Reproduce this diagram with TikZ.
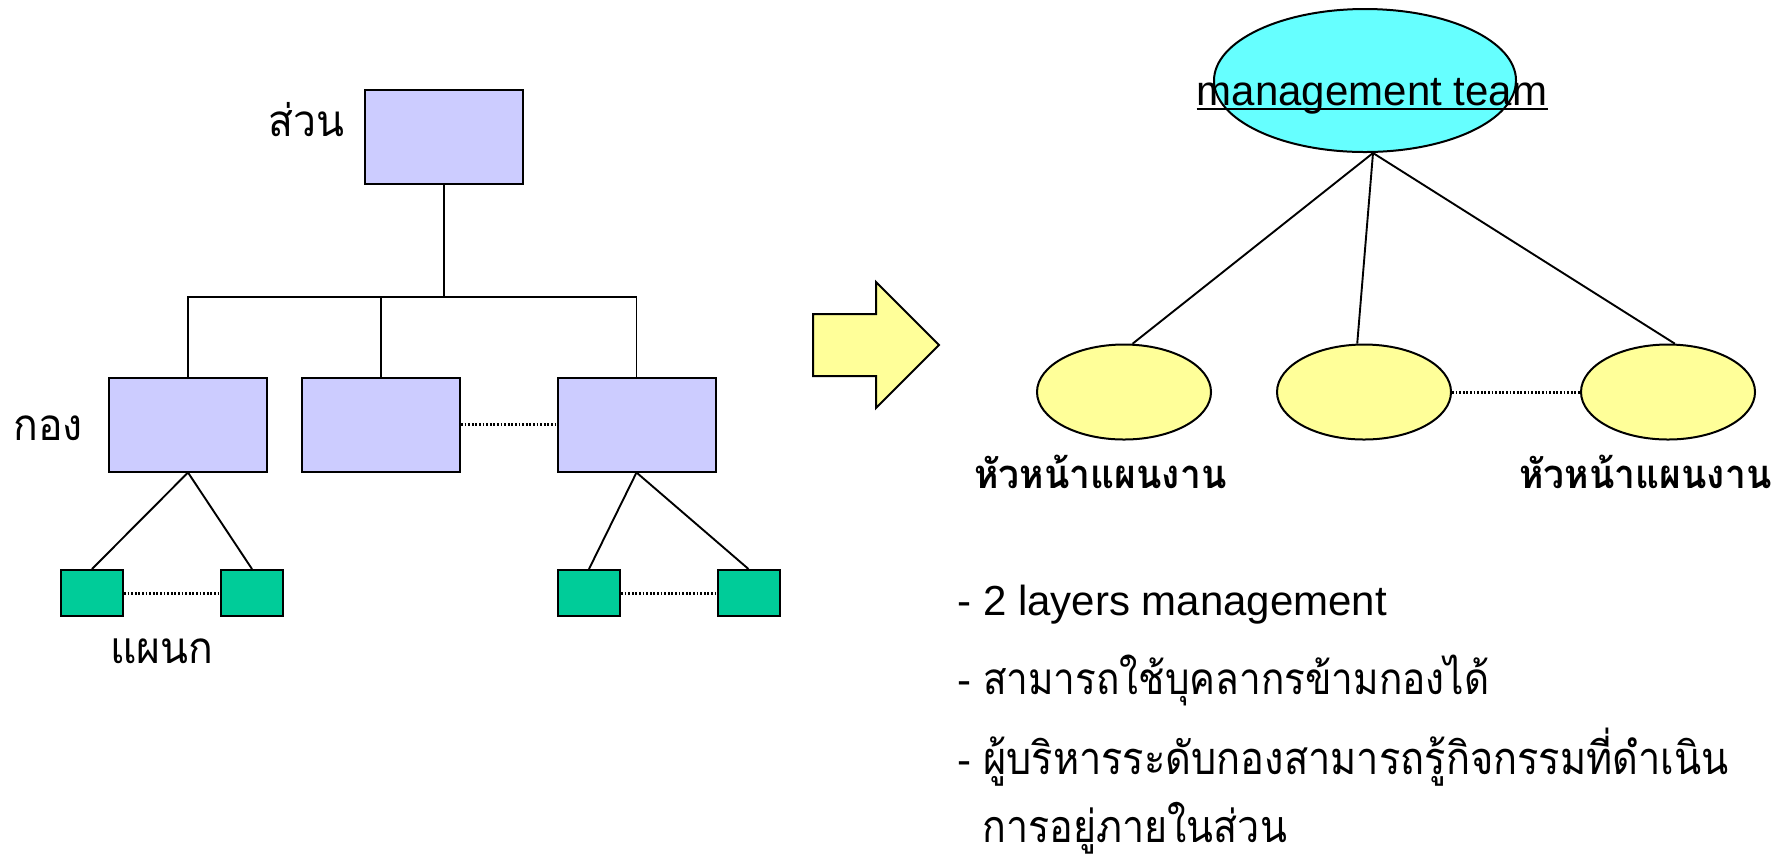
\documentclass[tikz,border=0pt]{standalone}
\usepackage{fontspec}
\setmainfont{Liberation Sans}
\newfontfamily\thailabel[Script=Thai, FakeStretch=0.93]{Loma}
\newfontfamily\thainote[Script=Thai, FakeStretch=0.88]{Loma}
\usetikzlibrary{shapes.geometric}
\definecolor{lavender}{HTML}{CCCCFF}
\definecolor{seagreen}{HTML}{00CC99}
\definecolor{aqua}{HTML}{66FFFF}
\definecolor{paleyellow}{HTML}{FFFF99}
\tikzset{
  unitbox/.style={draw=black, line width=1pt, fill=lavender, minimum width=79pt, minimum height=47pt, inner sep=0pt},
  deptbox/.style={draw=black, line width=1pt, fill=seagreen, minimum width=31pt, minimum height=23pt, inner sep=0pt},
  lead/.style={ellipse, draw=black, line width=1pt, fill=paleyellow, minimum width=87pt, minimum height=47.5pt, inner sep=0pt},
  link/.style={line width=0.95pt},
  peer/.style={line width=1.5pt, dash pattern=on 0.9pt off 0.9pt},
  lbl/.style={inner sep=0pt, font=\thailabel\fontsize{22}{26}\selectfont},
  headlbl/.style={inner sep=0pt, anchor=base west, font=\thailabel\bfseries\fontsize{20}{24}\selectfont},
  bullet/.style={inner sep=0pt, anchor=base west, font=\fontsize{21}{25}\selectfont},
}
\begin{document}
\begin{tikzpicture}[x=0.5pt, y=-0.5pt]
\useasboundingbox (0,0) rectangle (1780,859);

% ---- hierarchical structure ----
\node[unitbox] (sec) at (444,137) {};
\node[unitbox] (d1) at (188,424.5) {};
\node[unitbox] (d2) at (381,424.5) {};
\node[unitbox] (d3) at (636.5,424.5) {};
\node[deptbox] (s1) at (92,593) {};
\node[deptbox] (s2) at (252,593) {};
\node[deptbox] (s3) at (589,593) {};
\node[deptbox] (s4) at (748.5,593) {};
\coordinate (bar) at (444,297);

\draw[link] (sec.south) -- (bar);
\draw[link] (d1.north) |- (bar) -| (d3.north);
\draw[link] (d2.north) -- (d2.north |- bar);
\draw[peer] (d2.east) -- (d3.west);
\draw[link] (d1.south) -- (s1.north);
\draw[link] (d1.south) -- (s2.north);
\draw[link] (d3.south) -- (s3.north);
\draw[link] (d3.south) -- (s4.north);
\draw[peer] (s1.east) -- (s2.west);
\draw[peer] (s3.east) -- (s4.west);

\node[lbl, anchor=base east] (lsec) at (345,136) {ส่วน};
\node[lbl, anchor=base west] (ldiv) at (13,440) {กอง};
\node[lbl, anchor=base west] (ldept) at (110,663) {แผนก};

% ---- block arrow ----
\draw[line width=1pt, fill=paleyellow] (813,314) -- (876,314) -- (876,282) -- (939,345)
  -- (876,408) -- (876,376) -- (813,376) -- cycle;

% ---- team structure ----
\node[ellipse, draw=black, line width=1pt, fill=aqua, minimum width=151pt, minimum height=71.5pt, inner sep=0pt] (team) at (1365,80.5) {};
\node[inner sep=0pt, anchor=base, font=\fontsize{21}{25}\selectfont] (tt) at (1372,105) {management team};
\draw[line width=0.9pt] ([yshift=-1.8pt]tt.base west) -- ([yshift=-1.8pt]tt.base east);

\node[lead] (e1) at (1124,392) {};
\node[lead] (e2) at (1364,392) {};
\node[lead] (e3) at (1668,392) {};
\coordinate (hub) at ([xshift=4pt]team.south);
\draw[link] (hub) -- (e1.80);
\draw[link] (hub) -- (e2.98);
\draw[link] (hub) -- (e3.82);
\draw[peer] (e2.east) -- (e3.west);

\node[headlbl] (h1) at (974,488) {หัวหน้าแผนงาน};
\node[headlbl] (h2) at (1519,488) {หัวหน้าแผนงาน};

% ---- notes ----
\node[bullet] (n1) at (957,615) {- 2 layers management};
\node[bullet] (n2) at (957,694) {- {\thainote\fontsize{22}{26}\selectfont สามารถใช้บุคลากรข้ามกองได้}};
\node[bullet] (n3) at (957,774) {- {\thainote\fontsize{22.6}{26}\selectfont ผู้บริหารระดับกองสามารถรู้กิจกรรมที่ดำเนิน}};
\node[bullet, text depth=4pt] (n4) at (982,842) {{\thainote\fontsize{22.4}{26}\selectfont การอยู่ภายในส่วน}};
\end{tikzpicture}
\end{document}
